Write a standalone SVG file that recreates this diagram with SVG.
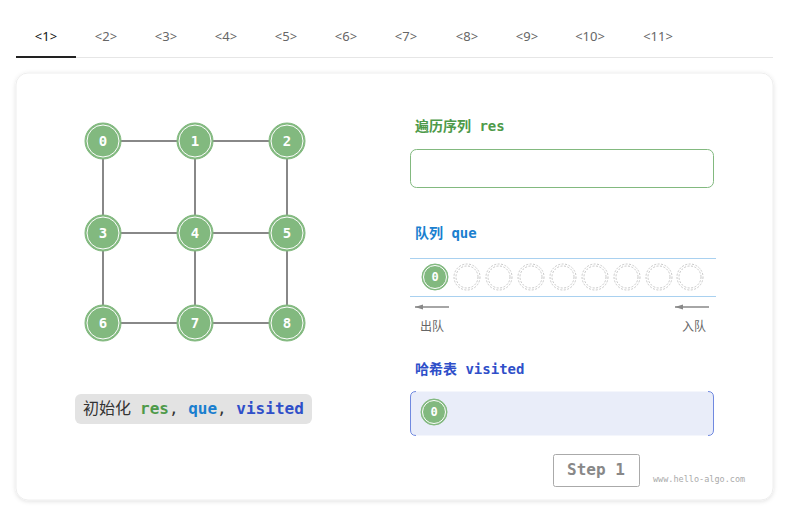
<svg xmlns="http://www.w3.org/2000/svg" width="794" height="516" viewBox="0 0 794 516">
<defs>
<filter id="sh" x="-5%" y="-5%" width="110%" height="115%"><feDropShadow dx="0" dy="1" stdDeviation="2" flood-color="#000" flood-opacity="0.12"/></filter>
<marker id="ar" markerWidth="8" markerHeight="8" refX="8" refY="4" orient="auto" markerUnits="userSpaceOnUse"><path d="M0,1.5 L8,4 L0,6.5 Z" fill="#888"/></marker>
</defs>
<style>
.tab{font-family:"Noto Sans","Liberation Sans",sans-serif;font-size:13px;fill:#666;text-anchor:middle}
.edge{stroke:#888;stroke-width:2}
.n{fill:#82b97f;stroke:#82b97f;stroke-width:1}
.ni{fill:none;stroke:#fff;stroke-width:1}
.nt{font-family:"DejaVu Sans Mono","Liberation Mono",monospace;font-size:14px;fill:#fff;text-anchor:middle;font-weight:bold}
.qt{font-family:"DejaVu Sans Mono","Liberation Mono",monospace;font-size:12px;fill:#fff;text-anchor:middle;font-weight:bold}
.e{fill:none;stroke:#c8c8c8;stroke-width:1;stroke-dasharray:2 1.5}
.h{font-family:"DejaVu Sans Mono","Noto Sans CJK SC",monospace;font-size:14px;font-weight:bold}
.lab{font-family:"Noto Sans CJK SC",sans-serif;font-size:12px;fill:#666;text-anchor:middle}
</style>
<rect width="794" height="516" fill="#fff"/>
<g id="tabs">
<text class="tab" x="46" y="41" style="fill:#111">&lt;1&gt;</text>
<text class="tab" x="106" y="41">&lt;2&gt;</text>
<text class="tab" x="166" y="41">&lt;3&gt;</text>
<text class="tab" x="226" y="41">&lt;4&gt;</text>
<text class="tab" x="286" y="41">&lt;5&gt;</text>
<text class="tab" x="346" y="41">&lt;6&gt;</text>
<text class="tab" x="406" y="41">&lt;7&gt;</text>
<text class="tab" x="467" y="41">&lt;8&gt;</text>
<text class="tab" x="527" y="41">&lt;9&gt;</text>
<text class="tab" x="590" y="41">&lt;10&gt;</text>
<text class="tab" x="658" y="41">&lt;11&gt;</text>
<line x1="16" y1="57.5" x2="773" y2="57.5" stroke="#e6e6e6" stroke-width="1"/>
<line x1="16" y1="57" x2="76" y2="57" stroke="#222" stroke-width="2"/>
</g>
<rect id="card" x="16" y="73" width="757" height="427" rx="12" fill="#fff" stroke="#eee" filter="url(#sh)"/>
<g id="connectors">
<line class="edge" x1="103" y1="141" x2="287" y2="141"/>
<line class="edge" x1="103" y1="233" x2="287" y2="233"/>
<line class="edge" x1="103" y1="323" x2="287" y2="323"/>
<line class="edge" x1="103" y1="141" x2="103" y2="323"/>
<line class="edge" x1="195" y1="141" x2="195" y2="323"/>
<line class="edge" x1="287" y1="141" x2="287" y2="323"/>
</g>
<g id="node0"><circle class="n" cx="103" cy="141" r="18"/><circle class="ni" cx="103" cy="141" r="16"/><text class="nt" x="103" y="146">0</text></g>
<g id="node1"><circle class="n" cx="195" cy="141" r="18"/><circle class="ni" cx="195" cy="141" r="16"/><text class="nt" x="195" y="146">1</text></g>
<g id="node2"><circle class="n" cx="287" cy="141" r="18"/><circle class="ni" cx="287" cy="141" r="16"/><text class="nt" x="287" y="146">2</text></g>
<g id="node3"><circle class="n" cx="103" cy="233" r="18"/><circle class="ni" cx="103" cy="233" r="16"/><text class="nt" x="103" y="238">3</text></g>
<g id="node4"><circle class="n" cx="195" cy="233" r="18"/><circle class="ni" cx="195" cy="233" r="16"/><text class="nt" x="195" y="238">4</text></g>
<g id="node5"><circle class="n" cx="287" cy="233" r="18"/><circle class="ni" cx="287" cy="233" r="16"/><text class="nt" x="287" y="238">5</text></g>
<g id="node6"><circle class="n" cx="103" cy="323" r="18"/><circle class="ni" cx="103" cy="323" r="16"/><text class="nt" x="103" y="328">6</text></g>
<g id="node7"><circle class="n" cx="195" cy="323" r="18"/><circle class="ni" cx="195" cy="323" r="16"/><text class="nt" x="195" y="328">7</text></g>
<g id="node8"><circle class="n" cx="287" cy="323" r="18"/><circle class="ni" cx="287" cy="323" r="16"/><text class="nt" x="287" y="328">8</text></g>
<g id="caption">
<rect x="75" y="394" width="237" height="30" rx="6" fill="#e3e3e3"/>
<text x="83" y="414" font-size="16" font-family="'Noto Sans CJK SC',sans-serif" fill="#333" xml:space="preserve">初始化 <tspan x="140" font-family="'DejaVu Sans Mono',monospace" font-weight="bold" fill="#4e9a4a">res</tspan><tspan font-family="'DejaVu Sans Mono',monospace" fill="#333">, </tspan><tspan font-family="'DejaVu Sans Mono',monospace" font-weight="bold" fill="#1a7fcf">que</tspan><tspan font-family="'DejaVu Sans Mono',monospace" fill="#333">, </tspan><tspan font-family="'DejaVu Sans Mono',monospace" font-weight="bold" fill="#2f4fc9">visited</tspan></text>
</g>
<g id="res">
<text class="h" x="415" y="131" fill="#4e9a4a">遍历序列 res</text>
<rect x="410.5" y="149.5" width="303" height="38" rx="6" fill="#fff" stroke="#82b97f"/>
</g>
<g id="queue">
<text class="h" x="415" y="238" fill="#1a7fcf">队列 que</text>
<line x1="410" y1="258.5" x2="716" y2="258.5" stroke="#a9d1f0"/>
<line x1="410" y1="296.5" x2="716" y2="296.5" stroke="#a9d1f0"/>
<g id="q0"><circle class="n" cx="435" cy="277" r="13"/><circle class="ni" cx="435" cy="277" r="11.5"/><text class="qt" x="435" y="281">0</text></g>
<circle class="e" cx="467" cy="277" r="13"/><circle class="e" cx="467" cy="277" r="11"/>
<circle class="e" cx="499" cy="277" r="13"/><circle class="e" cx="499" cy="277" r="11"/>
<circle class="e" cx="531" cy="277" r="13"/><circle class="e" cx="531" cy="277" r="11"/>
<circle class="e" cx="563" cy="277" r="13"/><circle class="e" cx="563" cy="277" r="11"/>
<circle class="e" cx="595" cy="277" r="13"/><circle class="e" cx="595" cy="277" r="11"/>
<circle class="e" cx="627" cy="277" r="13"/><circle class="e" cx="627" cy="277" r="11"/>
<circle class="e" cx="659" cy="277" r="13"/><circle class="e" cx="659" cy="277" r="11"/>
<circle class="e" cx="690" cy="277" r="13"/><circle class="e" cx="690" cy="277" r="11"/>
<line x1="449" y1="307" x2="415" y2="307" stroke="#888" stroke-width="1.5" marker-end="url(#ar)"/>
<line x1="709" y1="307" x2="675" y2="307" stroke="#888" stroke-width="1.5" marker-end="url(#ar)"/>
<text class="lab" x="432" y="331">出队</text>
<text class="lab" x="694" y="331">入队</text>
</g>
<g id="visited">
<text class="h" x="415" y="374" fill="#2f4fc9">哈希表 visited</text>
<rect x="410.5" y="391.5" width="303" height="44" rx="5" fill="#e9edf9"/>
<path d="M416,391.5 Q410.5,391.5 410.5,397 L410.5,430 Q410.5,435.5 416,435.5 M708,391.5 Q713.5,391.5 713.5,397 L713.5,430 Q713.5,435.5 708,435.5" fill="none" stroke="#7089e0"/>
<g id="v0"><circle class="n" cx="434" cy="412" r="13"/><circle class="ni" cx="434" cy="412" r="11.5"/><text class="qt" x="434" y="416">0</text></g>
</g>
<g id="step">
<rect x="553.5" y="454.5" width="86" height="32" rx="2" fill="#fff" stroke="#aaa"/>
<text x="596" y="475" font-family="'DejaVu Sans Mono',monospace" font-weight="bold" font-size="16" fill="#888" text-anchor="middle">Step 1</text>
<text x="653" y="482" font-family="'DejaVu Sans Mono',monospace" font-size="8.5" fill="#aaa">www.hello-algo.com</text>
</g>
</svg>
